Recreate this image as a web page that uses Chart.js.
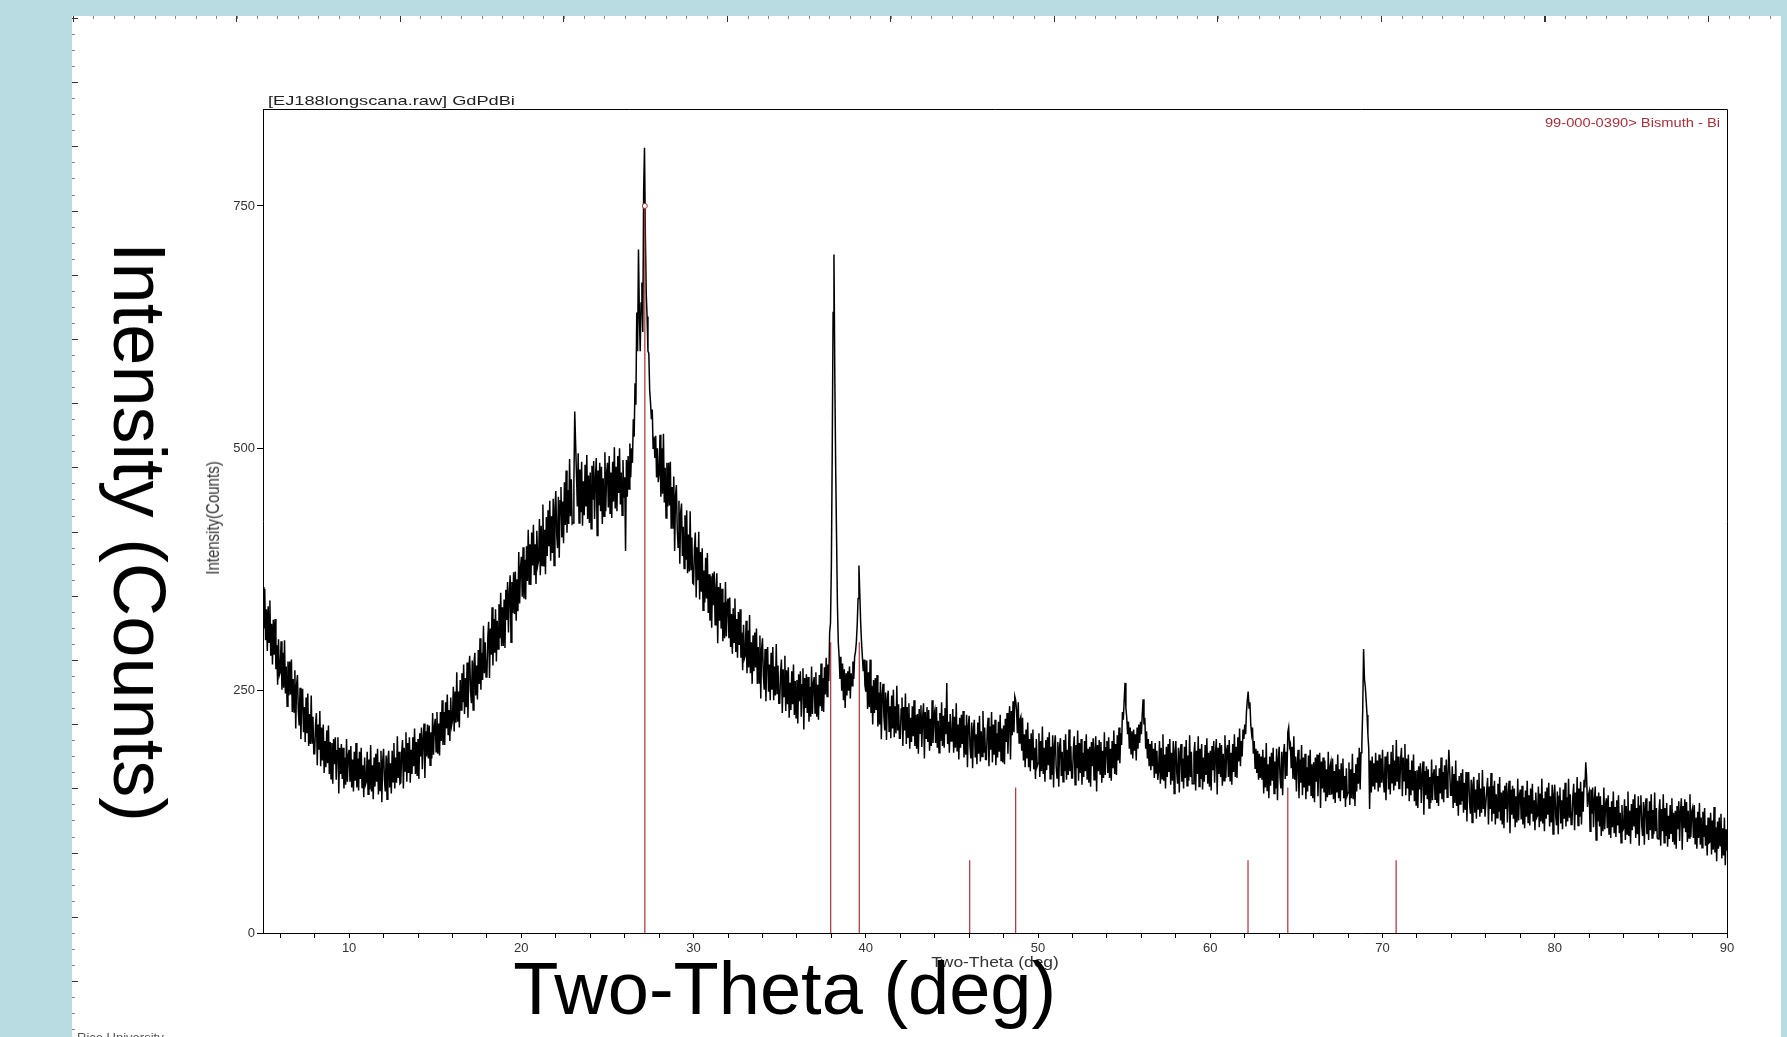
<!DOCTYPE html>
<html>
<head>
<meta charset="utf-8">
<title>GdPdBi long scan</title>
<script src="https://cdn.jsdelivr.net/npm/chart.js@4.4.1/dist/chart.umd.min.js"></script>
<style>
  html, body { margin: 0; padding: 0; }
  body {
    width: 1787px; height: 1037px; position: relative; overflow: hidden;
    background: #b8dce1; font-family: "Liberation Sans", Arial, sans-serif;
  }
  #sheet { position: absolute; left: 72px; top: 16px; width: 1709px; height: 1021px; background: #fff; }
  .rule { position: absolute; }
  #rulerTopSmall { left: 73px; top: 16px; width: 1707px; height: 3px;
    background: repeating-linear-gradient(to right, #888 0, #888 1px, transparent 1px, transparent 20.44px); }
  #rulerTopBig { left: 73px; top: 16px; width: 1707px; height: 6px;
    background: repeating-linear-gradient(to right, #333 0, #333 1px, transparent 1px, transparent 163.5px); }
  #rulerLeftSmall { left: 72px; top: 18px; width: 3px; height: 1019px;
    background: repeating-linear-gradient(to bottom, #888 0, #888 1px, transparent 1px, transparent 16.05px); }
  #rulerLeftBig { left: 72px; top: 18px; width: 6px; height: 1019px;
    background: repeating-linear-gradient(to bottom, #333 0, #333 1px, transparent 1px, transparent 64.2px); }
  canvas { position: absolute; left: 0; top: 0; }
  .txt { position: absolute; white-space: nowrap; line-height: 1; }
  #scanTitle { left: 268px; top: 94px; font-size: 13px; color: #222; transform-origin: 0 50%; transform: scaleX(1.4); }
  #refTitle { right: 67px; top: 117px; font-size: 12.5px; color: #a3323a; transform-origin: 100% 50%; transform: scaleX(1.175); }
  #xSmall { left: 994.5px; top: 961.5px; font-size: 14.5px; color: #333; transform: translate(-50%, -50%) scale(1.2, 1); }
  #ySmall { left: 211.8px; top: 518.3px; font-size: 15px; color: #333; transform: translate(-50%, -50%) rotate(-90deg) scale(1, 1.18); }
  #xBig { left: 784.7px; top: 989.2px; font-size: 74px; color: #000; transform: translate(-50%, -50%); }
  #yBig { left: 139.2px; top: 531.7px; font-size: 74px; color: #000; transform: translate(-50%, -50%) rotate(90deg); }
  #footer { left: 77px; top: 1031px; font-size: 13px; color: #555; }
</style>
</head>
<body>
<div id="sheet"></div>
<div class="rule" id="rulerTopSmall"></div>
<div class="rule" id="rulerTopBig"></div>
<div class="rule" id="rulerLeftSmall"></div>
<div class="rule" id="rulerLeftBig"></div>
<canvas id="xrd" width="1787" height="1037"></canvas>
<div class="txt" id="scanTitle">[EJ188longscana.raw] GdPdBi</div>
<div class="txt" id="refTitle">99-000-0390&gt; Bismuth - Bi</div>
<div class="txt" id="xSmall">Two-Theta (deg)</div>
<div class="txt" id="ySmall">Intensity(Counts)</div>
<div class="txt" id="xBig">Two-Theta (deg)</div>
<div class="txt" id="yBig">Intensity (Counts)</div>
<div class="txt" id="footer">Rice University</div>
<script>
// scan: 5 to 90 deg two-theta, one reading every 0.05 deg (20 per row = 1 deg)
const scanStart = 5;
const scanStep = 0.05;
const intensity = [
  357,314,355,302,334,291,337,300,343,286,319,277,323,287,324,272,297,256,303,266, // 5
  269,301,251,289,253,302,247,275,234,280,245,280,246,282,228,262,228,271,211,256, // 6
  266,229,214,253,200,243,252,207,233,197,243,206,247,193,226,195,245,196,223,185, // 7
  185,215,227,173,215,189,229,172,212,178,215,165,198,171,209,175,214,164,197,159, // 8
  196,154,200,174,202,158,188,202,144,191,164,195,159,191,149,181,153,200,156,183, // 9
  189,156,193,150,179,146,187,157,196,150,180,147,187,159,191,150,173,140,181,153, // 10
  156,187,143,179,148,194,146,173,138,181,151,185,156,190,143,176,147,188,135,178, // 11
  190,158,146,183,138,179,188,150,175,144,188,156,196,149,181,155,203,160,187,154, // 12
  155,185,199,149,191,167,207,156,196,165,202,155,189,164,202,172,211,164,197,162, // 13
  200,159,206,182,212,169,200,216,160,208,182,215,180,214,173,207,180,227,184,213, // 14
  221,187,228,185,216,183,228,198,240,194,228,194,238,211,246,204,230,198,243,214, // 15
  219,254,208,249,217,269,218,249,212,261,230,268,238,277,226,263,233,279,222,270, // 16
  286,250,237,281,230,278,289,245,276,241,292,257,304,251,289,261,317,268,300,264, // 17
  265,303,321,263,314,287,336,276,324,289,334,280,322,293,339,304,351,296,336,296, // 18
  344,294,354,323,362,310,350,369,300,362,330,372,329,373,322,365,332,393,340,377, // 19
  388,347,398,345,385,344,399,363,416,360,401,359,413,379,421,369,401,360,415,379, // 20
  384,427,369,420,379,442,378,416,370,429,389,436,399,446,384,430,392,448,379,438, // 21
  456,412,397,450,387,446,460,408,445,402,465,421,477,413,457,422,489,430,468,422, // 22
  423,465,538,505,473,440,495,423,478,434,486,420,466,431,483,440,493,427,472,423, // 23
  475,417,482,447,487,427,469,490,410,477,441,485,435,481,422,469,430,496,435,474, // 24
  485,439,492,433,475,428,486,445,501,438,481,435,492,454,500,442,475,431,488,449, // 25
  470,394,488,450,492,458,505,470,500,485,530,512,567,545,640,600,705,640,600,650, // 26
  671,620,765,810,720,660,636,600,598,560,547,530,540,500,512,490,513,470,500,465, // 27
  474,514,450,500,453,515,444,480,428,485,440,485,441,486,417,460,417,471,394,451, // 28
  462,417,398,446,381,434,443,389,419,376,431,385,436,371,411,373,435,375,408,361, // 29
  360,397,413,346,398,364,414,344,393,352,397,333,374,341,387,345,392,330,370,322, // 30
  368,315,371,338,373,318,354,371,299,357,322,361,314,355,301,341,304,362,306,340, // 31
  345,304,346,295,329,288,335,300,345,290,324,284,331,297,334,284,310,271,318,283, // 32
  286,322,268,312,274,328,268,300,257,307,270,310,274,314,257,295,258,307,242,293, // 33
  304,266,251,293,239,286,295,249,277,240,289,251,295,240,275,245,298,247,276,237, // 34
  237,269,282,227,272,244,286,229,271,236,274,222,258,230,270,236,277,225,260,222, // 35
  261,216,267,239,270,223,256,273,210,263,232,267,227,264,218,254,223,275,226,257, // 36
  264,227,269,223,256,220,266,234,278,229,263,228,274,246,284,244,277,260,310,320, // 37
  380,497,640,700,573,480,409,340,300,285,262,285,250,278,240,272,232,268,245,270, // 38
  250,275,242,268,255,280,262,285,290,300,318,345,379,350,320,300,285,270,282,255, // 39
  249,281,231,269,233,282,227,255,215,261,227,263,230,266,213,248,215,259,200,246, // 40
  257,223,209,248,199,241,250,208,234,201,245,211,251,202,234,206,255,209,236,201, // 41
  201,231,243,193,233,209,247,195,233,202,237,190,222,197,234,203,240,193,225,190, // 42
  226,185,231,206,235,192,222,237,180,228,201,233,197,230,188,221,193,240,196,224, // 43
  229,196,233,191,219,186,227,198,238,193,224,191,232,205,258,195,218,186,226,198, // 44
  200,231,186,223,191,237,188,215,179,222,191,225,195,229,181,214,184,225,171,214, // 45
  224,192,180,217,170,211,220,181,205,174,217,185,224,177,208,182,229,186,212,179, // 46
  179,209,222,172,213,189,228,176,215,184,220,173,206,181,218,187,225,178,211,176, // 47
  214,174,221,197,227,185,217,234,179,229,204,239,207,244,240,230,206,238,196,220, // 48
  223,188,222,178,205,171,210,180,217,171,200,167,206,179,210,169,191,159,200,172, // 49
  175,206,161,198,167,213,164,191,156,199,168,202,173,207,159,192,163,204,150,193, // 50
  204,172,160,197,151,192,201,162,187,156,199,167,205,158,189,163,210,167,193,160, // 51
  160,190,203,153,194,170,209,157,196,165,200,153,186,161,198,167,205,158,190,155, // 52
  192,151,197,172,201,158,188,203,146,194,167,199,164,197,155,188,160,207,163,191, // 53
  198,165,202,160,190,157,198,170,209,164,195,163,204,178,212,175,206,194,228,220, // 54
  240,258,232,222,205,218,190,212,185,208,180,210,188,205,178,212,190,215,196,218, // 55
  205,226,241,215,222,190,208,180,200,172,195,168,198,172,190,160,196,165,188,158, // 56
  167,198,154,191,159,205,157,184,149,192,161,195,166,200,153,186,157,198,144,187, // 57
  198,166,154,191,145,186,195,156,180,149,192,160,199,152,183,157,204,161,187,154, // 58
  154,184,197,147,188,164,203,151,190,159,195,148,181,156,194,163,201,154,186,151, // 59
  188,147,193,168,198,155,185,200,143,191,164,196,161,194,152,185,157,204,160,188, // 60
  194,161,199,157,186,153,195,166,205,161,192,160,202,177,211,172,198,182,210,200, // 61
  215,205,228,240,249,232,238,215,205,212,185,198,170,190,165,188,158,185,160,182, // 62
  158,189,144,181,150,196,147,174,139,182,152,186,157,191,144,177,149,190,137,180, // 63
  192,160,149,187,142,184,195,159,187,162,207,212,192,195,170,192,159,203,158,182, // 64
  146,176,189,139,179,155,194,142,181,150,185,138,171,146,183,152,189,142,174,139, // 65
  176,135,181,156,184,141,171,186,129,177,149,181,145,178,136,169,140,187,143,171, // 66
  176,143,180,138,167,134,174,145,184,139,169,136,175,148,180,139,162,130,170,142, // 67
  145,176,132,169,139,185,138,165,131,174,146,181,154,191,148,186,195,230,293,262, // 68
  254,240,225,205,190,128,178,145,182,152,175,148,186,155,178,146,184,150,180,155, // 69
  189,157,145,182,137,178,187,148,174,143,187,155,194,147,178,152,199,156,182,149, // 70
  149,179,191,141,181,157,195,142,180,149,184,136,168,142,178,147,184,136,167,132, // 71
  168,129,172,148,175,134,163,177,122,167,142,172,138,169,129,161,134,179,137,163, // 72
  169,138,173,134,162,131,170,144,181,138,166,135,173,148,179,140,161,189,168,142, // 73
  142,172,129,164,134,178,131,157,121,162,133,165,136,169,124,155,127,166,115,156, // 74
  166,135,123,158,114,153,161,124,148,118,158,128,165,120,149,124,168,128,151,120, // 75
  120,148,160,112,151,128,165,115,152,123,157,112,143,119,154,125,161,116,145,112, // 76
  147,108,152,128,155,114,143,157,103,148,122,152,118,149,109,141,114,159,116,142, // 77
  148,117,152,112,140,108,147,120,157,114,142,111,149,123,154,115,137,106,145,119, // 78
  121,151,109,144,115,159,113,139,105,146,118,150,122,155,110,141,114,153,102,143, // 79
  153,122,111,146,102,141,150,113,137,107,148,118,155,110,140,115,159,119,143,112, // 80
  113,141,154,106,145,122,161,111,149,120,156,112,146,125,158,150,176,160,130,142, // 81
  146,105,148,123,150,109,137,151,96,141,115,145,110,141,100,132,105,150,107,133,  // 82
  139,108,142,102,130,98,136,109,146,103,130,99,137,111,142,103,124,93,132,106,    // 83
  108,138,96,131,102,146,100,126,92,133,106,138,110,143,98,129,102,141,90,131,     // 84
  142,111,100,135,91,130,139,102,126,96,136,106,143,98,127,102,145,105,129,98,     // 85
  97,125,138,90,128,105,143,93,129,100,134,89,121,97,132,103,139,94,124,91,        // 86
  126,87,131,107,136,95,125,139,86,131,108,138,104,135,94,126,98,143,99,125,       // 87
  129,98,132,92,119,87,125,98,134,91,119,88,125,99,129,90,111,80,119,93,           // 88
  94,124,81,116,86,130,83,109,74,115,87,119,90,123,77,108,80,119,70,107,           // 89
  85                                                                               // 90
];

// 99-000-0390 Bismuth reference lines
const biPeaks = [27.17, 37.96, 39.62, 46.03, 48.70, 62.19, 64.50, 70.79];
const biHeights = [750, 300, 300, 75, 150, 75, 150, 75];

const xTickMarks = [6, 8, 10, 12, 14, 16, 18, 20, 22, 24, 26, 28, 30, 32, 34, 36, 38, 40, 42, 44,
  46, 48, 50, 52, 54, 56, 58, 60, 62, 64, 66, 68, 70, 72, 74, 76, 78, 80, 82, 84, 86, 88, 90];
const xTickLabels = [10, 20, 30, 40, 50, 60, 70, 80, 90];
const yTickValues = [0, 250, 500, 750];

const RED = "#a8323c";

const scanPoints = intensity.map((y, i) => ({ x: +(scanStart + i * scanStep).toFixed(2), y }));
const stickPoints = [];
biPeaks.forEach((p, i) => {
  stickPoints.push({ x: p, y: 0 }, { x: p, y: biHeights[i] }, { x: p, y: null });
});

const framePlugin = {
  id: "frame",
  afterDraw(chart) {
    const { ctx, chartArea: a } = chart;
    ctx.save();
    ctx.strokeStyle = "#000";
    ctx.lineWidth = 1;
    ctx.beginPath();
    ctx.moveTo(a.left, Math.round(a.top) + 0.5);
    ctx.lineTo(Math.round(a.right) + 0.5, Math.round(a.top) + 0.5);
    ctx.lineTo(Math.round(a.right) + 0.5, a.bottom);
    ctx.stroke();
    ctx.restore();
  },
};

Chart.defaults.font.family = '"Liberation Sans", Arial, sans-serif';

new Chart(document.getElementById("xrd").getContext("2d"), {
  type: "line",
  data: {
    datasets: [
      {
        label: "Bismuth - Bi",
        data: stickPoints,
        borderColor: RED,
        borderWidth: 1.2,
        pointRadius: 0,
        spanGaps: false,
        order: 0,
      },
      {
        label: "I100",
        data: [{ x: biPeaks[0], y: biHeights[0] }],
        showLine: false,
        pointRadius: 2.5,
        pointBorderWidth: 1,
        pointBorderColor: RED,
        pointBackgroundColor: "#fff",
        order: -1,
      },
      {
        label: "GdPdBi",
        data: scanPoints,
        borderColor: "#000",
        borderWidth: 1.5,
        borderJoinStyle: "miter",
        pointRadius: 0,
        tension: 0,
        order: 1,
      },
    ],
  },
  options: {
    responsive: false,
    animation: false,
    devicePixelRatio: 1,
    layout: { padding: { left: 223, right: 60, top: 109, bottom: 74 } },
    plugins: { legend: { display: false }, tooltip: { enabled: false } },
    scales: {
      x: {
        type: "linear",
        min: 5,
        max: 90,
        afterBuildTicks: (s) => { s.ticks = xTickMarks.map((v) => ({ value: v })); },
        afterFit: (s) => { s.height = 30; },
        grid: { drawOnChartArea: false, tickLength: 5, color: "#000", tickColor: "#000" },
        border: { color: "#000", width: 1 },
        ticks: {
          autoSkip: false,
          maxRotation: 0,
          padding: 3,
          color: "#333",
          font: { size: 13 },
          callback: (v) => (xTickLabels.includes(v) ? String(v) : ""),
        },
      },
      y: {
        min: 0,
        max: 850,
        afterBuildTicks: (s) => { s.ticks = yTickValues.map((v) => ({ value: v })); },
        afterFit: (s) => { s.width = 40; },
        grid: { drawOnChartArea: false, tickLength: 6, color: "#000", tickColor: "#000" },
        border: { color: "#000", width: 1 },
        ticks: { padding: 2, color: "#333", font: { size: 13 } },
      },
    },
  },
  plugins: [framePlugin],
});
</script>
</body>
</html>
